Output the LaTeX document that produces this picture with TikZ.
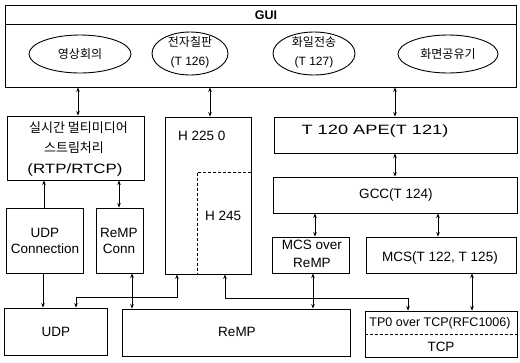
\documentclass[tikz,border=0pt]{standalone}
\usepackage{fontspec}
\setmainfont{Liberation Sans}
\newfontfamily\kr{Noto Sans CJK KR}
\usetikzlibrary{arrows.meta,shapes.geometric}
\begin{document}
\begin{tikzpicture}[x=1pt,y=-1pt,
  box/.style={draw, line width=0.9pt, rectangle, inner sep=0pt, anchor=center},
  ell/.style={draw, line width=0.9pt, ellipse, inner sep=0pt},
  tip/.style={},
  dbl/.style={line width=0.8pt, {Stealth[length=4.5pt,width=3.6pt]}-{Stealth[length=4.5pt,width=3.6pt]}},
  sgl/.style={line width=0.8pt, -{Stealth[length=4.5pt,width=3.6pt]}},
  dline/.style={line width=0.8pt, dashed, dash pattern=on 3pt off 2pt},
  lat/.style={font=\fontsize{13.5}{16}\selectfont, inner sep=0pt, align=center},
  krt/.style={font=\kr\fontsize{12}{19}\selectfont, inner sep=0pt, align=center},
]
\useasboundingbox (0,0) rectangle (520,362);
\fill[white] (0,0) rectangle (520,362);

% GUI box
\node[box, minimum width=511pt, minimum height=82pt] (gui) at (260.5,46) {};
\coordinate (hl) at (0,24);
\draw[line width=0.9pt] (gui.west |- hl) -- (gui.east |- hl);
\node[font=\bfseries\fontsize{12.5}{14}\selectfont, inner sep=0pt] (guit) at (266,15) {GUI};

\node[ell, minimum width=102pt, minimum height=38pt] (e1) at (80,54) {};
\node[krt] (e1t) at (80,54) {\kr 영상회의};
\node[ell, minimum width=76pt, minimum height=43pt] (e2) at (190,53.5) {};
\node[krt] (e2t) at (190,52) {\kr 전자칠판\\ \rmfamily (T 126)};
\node[ell, minimum width=82pt, minimum height=43pt] (e3) at (314,53.5) {};
\node[krt] (e3t) at (314,52) {\kr 화일전송\\ \rmfamily (T 127)};
\node[ell, minimum width=100pt, minimum height=38pt] (e4) at (448,54) {};
\node[krt] (e4t) at (448,54) {\kr 화면공유기};

% boxes
\node[box, minimum width=137pt, minimum height=64pt] (rtp) at (75.5,148) {};
\node[inner sep=0pt] (rtpt1) at (78.5,128) {\kr\fontsize{13}{15}\selectfont 실시간 멀티미디어};
\node[inner sep=0pt] (rtpt2) at (74,148) {\kr\fontsize{13}{15}\selectfont 스트림처리};
\node[inner sep=0pt] (rtpt3) at (75,170) {\fontsize{13.5}{15}\selectfont\addfontfeatures{FakeStretch=1.25}(RTP/RTCP)};

\node[box, minimum width=86pt, minimum height=157pt] (h225) at (208,195.5) {};
\node[lat, anchor=west] (h225t) at (178,136) {H 225 0};
\node[lat, anchor=west] (h245t) at (205,216) {H 245};
\coordinate (hd) at (197,172);
\draw[dline] (hd -| h225.east) -- (hd) -- (hd |- h225.south);

\node[box, minimum width=243pt, minimum height=36pt] (ape) at (395.5,135) {};
\node[inner sep=0pt] (apet) at (375,131) {\fontsize{13.5}{15}\selectfont\addfontfeatures{FakeStretch=1.35}T 120 APE(T 121)};
\node[box, minimum width=244pt, minimum height=36pt] (gcc) at (395,195) {};
\node[lat] (gcct) at (396,195) {GCC(T 124)};

\node[box, minimum width=77pt, minimum height=65pt] (udpc) at (44.5,240.5) {};
\node[lat] (udpct) at (45,241) {UDP\\Connection};
\node[box, minimum width=47pt, minimum height=65pt] (rempc) at (119.5,240.5) {};
\node[lat] (rempct) at (119,241) {ReMP\\Conn};

\node[box, minimum width=77pt, minimum height=36pt] (mcsr) at (310.5,255) {};
\node[lat, font=\fontsize{13.5}{18}\selectfont] (mcsrt) at (312,254) {MCS over\\ReMP};
\node[box, minimum width=150pt, minimum height=36pt] (mcs) at (441,255) {};
\node[lat] (mcst) at (440,258) {MCS(T 122, T 125)};

\node[box, minimum width=103pt, minimum height=47pt] (udp) at (55.5,331.5) {};
\node[lat] (udpt) at (56,332) {UDP};
\node[box, minimum width=228pt, minimum height=47pt] (remp) at (236,332.5) {};
\node[lat] (rempt) at (237,332) {ReMP};
\node[box, minimum width=152pt, minimum height=46pt] (tcp) at (441,334) {};
\node[lat, font=\fontsize{12.5}{15}\selectfont] (tp0) at (440,323) {TP0 over TCP(RFC1006)};
\node[lat] (tcpt) at (441,347) {TCP};
\coordinate (td) at (0,334);
\draw[dline] (tcp.west |- td) -- (tcp.east |- td);

% connectors
\coordinate (c78) at (78,0);
\draw[dbl] (gui.south -| c78) -- (rtp.north -| c78);
\coordinate (c210) at (210,0);
\draw[dbl] (gui.south -| c210) -- (h225.north -| c210);
\coordinate (c395) at (395,0);
\draw[dbl] (gui.south -| c395) -- (ape.north -| c395);
\draw[dbl] (ape.south -| c395) -- (gcc.north -| c395);
\coordinate (c315) at (315,0);
\draw[dbl] (gcc.south -| c315) -- (mcsr.north -| c315);
\coordinate (c438) at (438,0);
\draw[dbl] (gcc.south -| c438) -- (mcs.north -| c438);
\coordinate (c44) at (44,0);
\draw[sgl] (udpc.north -| c44) -- (rtp.south -| c44);
\coordinate (c119) at (119,0);
\draw[dbl] (rtp.south -| c119) -- (rempc.north -| c119);
\coordinate (c43) at (43,0);
\draw[sgl] (udpc.south -| c43) -- (udp.north -| c43);
\coordinate (c132) at (132,0);
\draw[dbl] (rempc.south -| c132) -- (remp.north -| c132);
\coordinate (j1) at (177,297);
\coordinate (j2) at (76,297);
\draw[dbl] (h225.south -| j1) -- (j1) -- (j2) -- (udp.north -| j2);
\coordinate (k1) at (225,298);
\coordinate (k2) at (408,298);
\draw[dbl] (h225.south -| k1) -- (k1) -- (k2) -- (tcp.north -| k2);
\coordinate (c313) at (313,0);
\draw[dbl] (mcsr.south -| c313) -- (remp.north -| c313);
\coordinate (c472) at (472,0);
\draw[dbl] (mcs.south -| c472) -- (tcp.north -| c472);
\end{tikzpicture}
\end{document}
